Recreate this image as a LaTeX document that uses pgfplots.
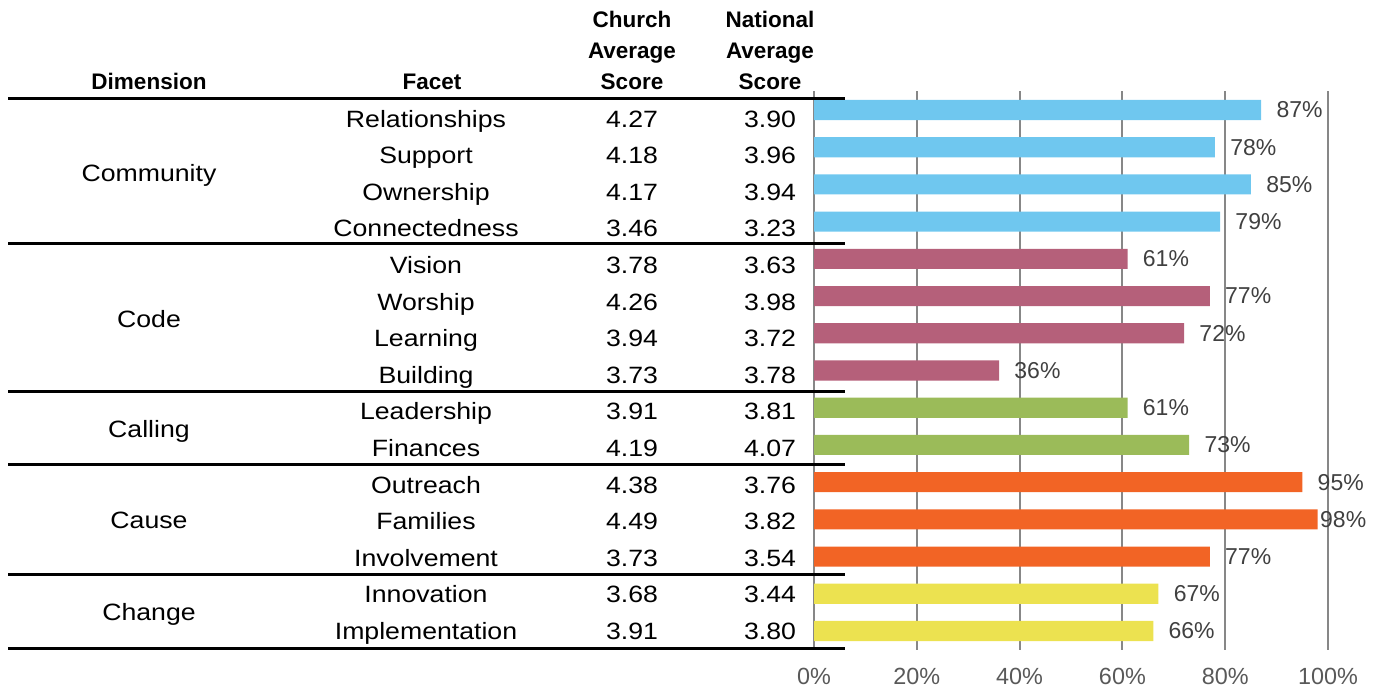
\documentclass[border=0pt]{standalone}
\usepackage{pgfplots}
\pgfplotsset{compat=1.18}
\usepackage{fontspec}
\setmainfont{Liberation Sans}
\newfontfamily\bodyfam{Liberation Sans}[FakeStretch=1.13]
\definecolor{cblue}{HTML}{6FC7EF}
\definecolor{cmauve}{HTML}{B5607A}
\definecolor{cgreen}{HTML}{9BBB59}
\definecolor{corange}{HTML}{F26425}
\definecolor{cyellow}{HTML}{ECE250}
\definecolor{gridgray}{HTML}{878787}
\definecolor{tickgray}{HTML}{595959}
\definecolor{labelgray}{HTML}{404040}
\newcommand\bodyfont{\bodyfam\fontsize{11.8pt}{14pt}\selectfont}
\newcommand\headfont{\fontsize{11.25pt}{14pt}\selectfont\bfseries}
\begin{document}
\begin{tikzpicture}
\path[use as bounding box] (0,0) rectangle (690.5pt,344.5pt);
\begin{axis}[
  at={(407pt,19.7pt)}, anchor=south west,
  scale only axis, width=257pt, height=279.1pt,
  xmin=0, xmax=100, ymin=-0.5, ymax=14.5, y dir=reverse,
  xbar, bar width=0.54, bar shift=0pt,
  axis line style={draw=none}, tick style={draw=none},
  ytick=\empty,
  xtick={0,20,40,60,80,100},
  xticklabels={0\%,20\%,40\%,60\%,80\%,100\%},
  xticklabel style={font=\fontsize{11.7pt}{14pt}\selectfont, text=tickgray, anchor=base, yshift=-17.4pt},
  xmajorgrids, major grid style={draw=gridgray, line width=1pt},
  clip=false,
  point meta=x,
  /pgf/number format/assume math mode=true,
  visualization depends on={x \as \rawx},
  nodes near coords={\pgfmathprintnumber[assume math mode=true]{\pgfplotspointmeta}\%},
  nodes near coords style={anchor=west, inner sep=0pt, text=labelgray,
    font=\fontsize{11.5pt}{14pt}\selectfont,
    xshift={min(7.5,(98.4-\rawx)*2.57)*1pt}},
]
\addplot[fill=cblue, draw=none] coordinates {(87,0) (78,1) (85,2) (79,3)};
\addplot[fill=cmauve, draw=none] coordinates {(61,4) (77,5) (72,6) (36,7)};
\addplot[fill=cgreen, draw=none] coordinates {(61,8) (73,9)};
\addplot[fill=corange, draw=none] coordinates {(95,10) (98,11) (77,12)};
\addplot[fill=cyellow, draw=none] coordinates {(67,13) (66,14)};
\end{axis}
% header
\node[anchor=base, inner sep=0pt, font=\headfont] at (74.5pt,299.5pt) {Dimension};
\node[anchor=base, inner sep=0pt, font=\headfont] at (216pt,299.5pt) {Facet};
\node[anchor=base, inner sep=0pt, font=\headfont] at (316pt,330.5pt) {Church};
\node[anchor=base, inner sep=0pt, font=\headfont] at (316pt,315pt) {Average};
\node[anchor=base, inner sep=0pt, font=\headfont] at (316pt,299.5pt) {Score};
\node[anchor=base, inner sep=0pt, font=\headfont] at (385pt,330.5pt) {National};
\node[anchor=base, inner sep=0pt, font=\headfont] at (385pt,315pt) {Average};
\node[anchor=base, inner sep=0pt, font=\headfont] at (385pt,299.5pt) {Score};
% rows
\foreach \f/\c/\n [count=\k from 0] in {
  Relationships/4.27/3.90, Support/4.18/3.96, Ownership/4.17/3.94, Connectedness/3.46/3.23,
  Vision/3.78/3.63, Worship/4.26/3.98, Learning/3.94/3.72, Building/3.73/3.78,
  Leadership/3.91/3.81, Finances/4.19/4.07,
  Outreach/4.38/3.76, Families/4.49/3.82, Involvement/3.73/3.54,
  Innovation/3.68/3.44, Implementation/3.91/3.80}{
  \node[anchor=base, inner sep=0pt, font=\bodyfont] at (213pt,{280.9pt-18.3pt*\k}) {\f};
  \node[anchor=base, inner sep=0pt, font=\bodyfont] at (316pt,{280.9pt-18.3pt*\k}) {\c};
  \node[anchor=base, inner sep=0pt, font=\bodyfont] at (385pt,{280.9pt-18.3pt*\k}) {\n};
}
% dimensions
\node[anchor=base, inner sep=0pt, font=\bodyfont] at (74.5pt,253.75pt) {Community};
\node[anchor=base, inner sep=0pt, font=\bodyfont] at (74.5pt,180.75pt) {Code};
\node[anchor=base, inner sep=0pt, font=\bodyfont] at (74.5pt,125.5pt) {Calling};
\node[anchor=base, inner sep=0pt, font=\bodyfont] at (74.5pt,80pt) {Cause};
\node[anchor=base, inner sep=0pt, font=\bodyfont] at (74.5pt,34pt) {Change};
% separator lines
\foreach \yy in {295,222.5,148.5,112,57,20}{
  \draw[line width=1.5pt, black] (4pt,\yy pt) -- (422.5pt,\yy pt);
}
\end{tikzpicture}
\end{document}
